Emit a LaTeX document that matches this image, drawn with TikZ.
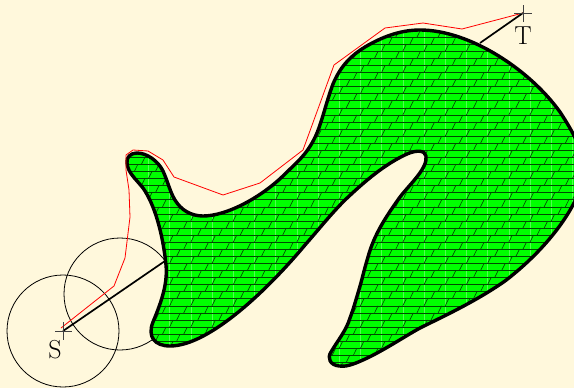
\documentclass[tikz,border=0pt]{standalone}
\definecolor{paper}{HTML}{FFF8DC}
\definecolor{brickline}{HTML}{004A00}
\definecolor{paleline}{HTML}{50FF50}
\tikzset{
  outline/.style={line width=3.4pt,line join=round},
  thinring/.style={draw=black,line width=0.8pt},
  trail/.style={draw=red,line width=0.8pt,line join=round},
  ray/.style={draw=black,line width=1.7pt},
  tick/.style={draw=black!75,line width=0.7pt},
  brick/.style={draw=brickline,line width=0.65pt},
  pale/.style={draw=paleline,line width=0.6pt},
  letter/.style={font=\fontsize{26}{26}\selectfont,inner sep=0pt,text=black}
}
\def\blob{(127,163)
 .. controls (126,157) and (131,153) .. (137,153)
 .. controls (147,153) and (158,161) .. (163,171)
 .. controls (168,182) and (170,192) .. (175,200)
 .. controls (181,210) and (191,216) .. (203,216)
 .. controls (227,216) and (262,197) .. (285,174)
 .. controls (297,162) and (308,154) .. (317,133)
 .. controls (323,118) and (326,103) .. (333,84)
 .. controls (341,65) and (352,55) .. (365,47)
 .. controls (382,37) and (400,30) .. (420,30)
 .. controls (470,30) and (530,70) .. (560,112)
 .. controls (585,150) and (590,170) .. (574,203)
 .. controls (560,230) and (535,258) .. (505,281)
 .. controls (475,302) and (440,318) .. (420,328)
 .. controls (402,338) and (383,351) .. (363,360)
 .. controls (352,365) and (345,367) .. (339,366)
 .. controls (330,365) and (327,358) .. (331,352)
 .. controls (338,340) and (346,331) .. (350,318)
 .. controls (354,307) and (355,303) .. (358,293)
 .. controls (362,280) and (364,270) .. (368,257)
 .. controls (374,235) and (385,218) .. (400,197)
 .. controls (410,184) and (428,168) .. (426,156)
 .. controls (425,150) and (416,150) .. (407,154)
 .. controls (385,164) and (365,181) .. (345,200)
 .. controls (330,215) and (320,228) .. (305,245)
 .. controls (270,287) and (210,346) .. (170,346)
 .. controls (155,346) and (147,337) .. (153,322)
 .. controls (160,305) and (168,285) .. (166,265)
 .. controls (163,235) and (155,205) .. (143,188)
 .. controls (135,178) and (128,173) .. (127,163) -- cycle}
\begin{document}
\begin{tikzpicture}[x=1pt,y=-1pt]
\useasboundingbox (0,0) rectangle (574,388);
\fill[paper] (0,0) rectangle (574,388);
\coordinate (S) at (63,331);
\coordinate (T) at (523,13);
\coordinate (Q) at (120,294);
\coordinate (A) at (165,261);
\coordinate (B) at (480,43);
\draw[thinring] (S) circle (56);
\draw[thinring] (Q) circle (56);
\begin{scope}
\clip (0,0) rectangle (574,388);
\fill[green] \blob;
\begin{scope}
\clip \blob;
\foreach \m in {5,...,27}{
  \draw[pale] (21.2*\m,0) -- (21.2*\m,388);
}
\foreach \k in {-27,...,24}{
  \pgfmathsetmacro{\yy}{221+7.07*\k}
  \draw[brick] (0,\yy) -- (574,\yy);
  \pgfmathsetmacro{\off}{mod(270-\k,3)*7.07}
  \foreach \m in {0,...,28}{
    \pgfmathsetmacro{\xx}{\off+21.2*\m}
    \draw[brick] (\xx,\yy) -- (\xx+3.5,\yy-7.07);
  }
}
\end{scope}
\draw[outline] \blob;
\end{scope}
\draw[trail] (61,328) -- (114,286) -- (125,258) -- (130,217) -- (129,190) -- (126,170) -- (126,155) -- (133,150) -- (148,151) -- (163,160) -- (174,177) -- (223,195) -- (260,183) -- (303,150) -- (334,65) -- (385,28) -- (423,23) -- (462,29) -- (523,13);
\draw[ray] (S) -- (A);
\draw[ray] (T) -- (B);
\draw[tick] (55,331) -- (72,331) (63,322) -- (63,340);
\draw[tick] (514,13) -- (532,13) (523,5) -- (523,22);
\node[letter] (labS) at (55,350) {S};
\node[letter] (labT) at (523,36) {T};
\end{tikzpicture}
\end{document}
